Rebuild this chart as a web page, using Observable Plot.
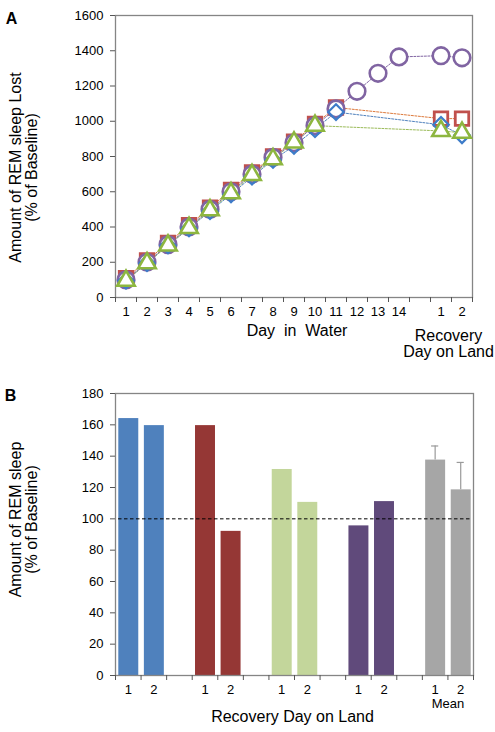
<!DOCTYPE html>
<html><head><meta charset="utf-8">
<script src="https://cdn.jsdelivr.net/npm/d3@7"></script>
<script src="https://cdn.jsdelivr.net/npm/@observablehq/plot@0.6"></script>
<style>
html,body{margin:0;padding:0;background:#fff;}
#chart{width:495px;line-height:0;}
#chart svg{display:block;}
</style></head><body><div id="chart"></div>
<script>
// ---------- Panel A data ----------
const waterDays = [1,2,3,4,5,6,7,8,9,10,11,12,13,14];
const recoveryDays = [1,2];
const squareWater = [110,210,310,410,510,610,710,800,885,985,1078];
const squareRecovery = [1015,1015];
const diamondWater = [95,195,295,392,490,585,685,780,860,955,1052];
const diamondRecovery = [980,920];
const triangleWater = [95,195,295,395,495,592,695,785,880,975];
const triangleRecovery = [945,935];
const circleWater = [100,200,300,400,500,600,700,795,878,975,1070,1170,1272,1365];
const circleRecovery = [1372,1360];
const yTicksA = [0,200,400,600,800,1000,1200,1400,1600];

// ---------- Panel B data ----------
const groups = ["blue","red","green","purple","mean"];
const groupColors = ["#4F81BD","#953735","#C3D69B","#604A7B","#A6A6A6"];
const barDays = [1,2];
const blueValues = [164,159.5];
const redValues = [159.5,92];
const greenValues = [131.5,110.5];
const purpleValues = [95.5,111];
const meanValues = [137.5,118.5];
const meanErrors = [9,17.5];
const yTicksB = [0,20,40,60,80,100,120,140,160,180];
const referenceLevel = 100;

const FONT = "'Liberation Sans', Arial, Helvetica, sans-serif";

// ---------- Panel A ----------
const nSlotsA = waterDays.length + 1 + recoveryDays.length; // one empty slot gap
const waterSlot = d => d - 0.5;
const recoverySlot = r => waterDays.length + 1 + r - 0.5;
function series(water, recovery) {
  return water.map((v, i) => ({slot: waterSlot(waterDays[i]), value: v}))
    .concat(recovery.map((v, i) => ({slot: recoverySlot(recoveryDays[i]), value: v})));
}
const sq = series(squareWater, squareRecovery);
const di = series(diamondWater, diamondRecovery);
const tr = series(triangleWater, triangleRecovery);
const ci = series(circleWater, circleRecovery);

const labelMapA = new Map();
waterDays.forEach(d => labelMapA.set(waterSlot(d), String(d)));
recoveryDays.forEach(r => labelMapA.set(recoverySlot(r), String(r)));

const styleBase = {fontFamily: FONT, fontSize: "13px", color: "#000", background: "#fff", overflow: "visible"};
const plain = d => String(d);

const plotA = Plot.plot({
  width: 495, height: 360,
  marginLeft: 115, marginRight: 23, marginTop: 15, marginBottom: 63,
  style: styleBase,
  x: {domain: [0, nSlotsA]},
  y: {domain: [0, 1600]},
  marks: [
    Plot.frame({stroke: "#858585", strokeWidth: 1.3}),
    Plot.axisY({ticks: yTicksA, tickSize: 5, tickPadding: 7, tickFormat: plain, label: null, stroke: "#555"}),
    Plot.axisX({ticks: d3.range(0, nSlotsA + 1), tickSize: 5, tickFormat: () => "", label: null, stroke: "#555"}),
    Plot.axisX({ticks: [...labelMapA.keys()], tickSize: 0, tickPadding: 9, tickFormat: d => labelMapA.get(d), label: null}),
    Plot.line(sq, {x: "slot", y: "value", stroke: "#DD7A3C", strokeWidth: 1, strokeDasharray: "2,1.5"}),
    Plot.line(di, {x: "slot", y: "value", stroke: "#4F81BD", strokeWidth: 1, strokeDasharray: "2,1.5"}),
    Plot.line(tr, {x: "slot", y: "value", stroke: "#9BBB59", strokeWidth: 1, strokeDasharray: "2,1.5"}),
    Plot.line(ci, {x: "slot", y: "value", stroke: "#8064A2", strokeWidth: 1, strokeDasharray: "2,1.5"}),
    Plot.dot(sq, {x: "slot", y: "value", symbol: "square", r: 7.6, stroke: "#C0504D", strokeWidth: 2.8, fill: "#fff"}),
    Plot.dot(ci, {x: "slot", y: "value", symbol: "circle", r: 8.3, stroke: "#8064A2", strokeWidth: 2.6, fill: "#fff"}),
    Plot.dot(di, {x: "slot", y: "value", symbol: "diamond2", r: 7, stroke: "#3D7CC9", strokeWidth: 2.2, fill: "none"}),
    Plot.dot(tr, {x: "slot", y: "value", symbol: "triangle", r: 6.5, stroke: "#8DB63F", strokeWidth: 2.6, fill: "#fff"}),
    Plot.text(["Amount of REM sleep Lost\n(% of Baseline)"], {frameAnchor: "left", textAnchor: "middle", rotate: -90, dx: -92, dy: 11, fontSize: 16, lineAnchor: "middle"}),
    Plot.text(["Day\u00a0 in\u00a0 Water"], {frameAnchor: "bottom", textAnchor: "middle", dx: 3, dy: 38, fontSize: 16}),
    Plot.text(["Recovery\nDay on Land"], {frameAnchor: "bottom-right", textAnchor: "middle", dx: -24, dy: 46, fontSize: 16, lineAnchor: "middle"}),
    Plot.text(["A"], {frameAnchor: "top-left", textAnchor: "middle", dx: -104, dy: -3, fontSize: 16, fontWeight: "bold"})
  ]
});

// ---------- Panel B ----------
const groupValues = [blueValues, redValues, greenValues, purpleValues, meanValues];
const slotsPerGroup = barDays.length + 1;
const nSlotsB = groups.length * slotsPerGroup - 1;
const bars = [];
groups.forEach((g, gi) => {
  barDays.forEach((day, di) => {
    bars.push({group: g, day, slot: gi * slotsPerGroup + di, value: groupValues[gi][di], color: groupColors[gi]});
  });
});
const meanGi = groups.indexOf("mean");
const errBars = barDays.map((day, di) => ({
  slot: meanGi * slotsPerGroup + di,
  value: meanValues[di],
  top: meanValues[di] + meanErrors[di]
}));
const labelMapB = new Map();
bars.forEach(b => labelMapB.set(b.slot + 0.5, String(b.day)));

const plotB = Plot.plot({
  width: 495, height: 372,
  marginLeft: 115, marginRight: 22, marginTop: 33, marginBottom: 57,
  style: styleBase,
  x: {domain: [0, nSlotsB]},
  y: {domain: [0, 180]},
  color: {type: "identity"},
  marks: [
    Plot.rectY(bars, {x1: "slot", x2: d => d.slot + 1, y: "value", fill: "color", insetLeft: 3.3, insetRight: 2.3}),
    Plot.ruleX(errBars, {x: d => d.slot + 0.5, y1: "value", y2: "top", stroke: "#9a9a9a", strokeWidth: 1.2}),
    Plot.ruleY(errBars, {y: "top", x1: d => d.slot + 0.36, x2: d => d.slot + 0.64, stroke: "#9a9a9a", strokeWidth: 1.2}),
    Plot.ruleY([referenceLevel], {stroke: "#000", strokeWidth: 1, strokeDasharray: "3.5,2.5", insetLeft: 3, insetRight: 3}),
    Plot.frame({stroke: "#858585", strokeWidth: 1.3}),
    Plot.axisY({ticks: yTicksB, tickSize: 5, tickPadding: 7, tickFormat: plain, label: null, stroke: "#555"}),
    Plot.axisX({ticks: d3.range(0, nSlotsB + 1), tickSize: 5, tickFormat: () => "", label: null, stroke: "#555"}),
    Plot.axisX({ticks: [...labelMapB.keys()], tickSize: 0, tickPadding: 9, tickFormat: d => labelMapB.get(d), label: null}),
    Plot.text(["Mean"], {x: meanGi * slotsPerGroup + barDays.length / 2, frameAnchor: "bottom", textAnchor: "middle", dy: 32, fontSize: 13}),
    Plot.text(["Amount of REM sleep\n(% of Baseline)"], {frameAnchor: "left", textAnchor: "middle", rotate: -90, dx: -92, dy: -15, fontSize: 16, lineAnchor: "middle"}),
    Plot.text(["Recovery Day on Land"], {frameAnchor: "bottom", textAnchor: "middle", dx: -2, dy: 46, fontSize: 16}),
    Plot.text(["B"], {frameAnchor: "top-left", textAnchor: "middle", dx: -105, dy: -3.5, fontSize: 16, fontWeight: "bold"})
  ]
});

const chart = document.getElementById("chart");
chart.appendChild(plotA);
chart.appendChild(plotB);
</script></body></html>
